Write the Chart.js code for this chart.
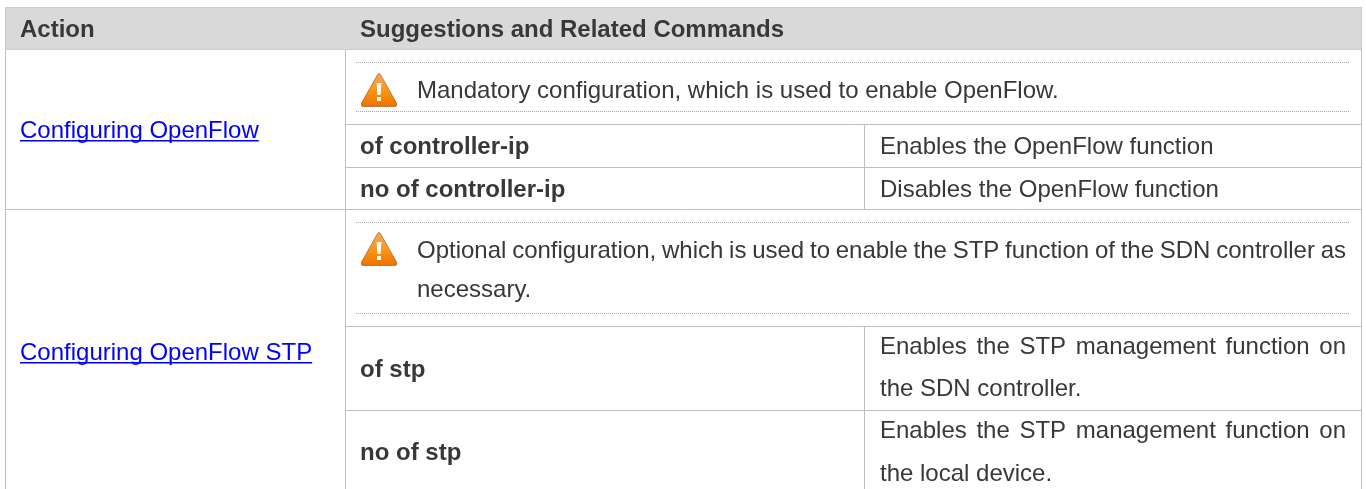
<!DOCTYPE html>
<html>
<head>
<meta charset="utf-8">
<title>OpenFlow configuration</title>
<script src="https://cdn.jsdelivr.net/npm/chart.js@4"></script>
<style>
    html, body { margin: 0; padding: 0; background: #ffffff; }
    canvas { display: block; }
</style>
</head>
<body>
<canvas id="chart" width="1366" height="489"></canvas>
<script>
// Cell texts
const headerLabels = ['Action', 'Suggestions and Related Commands'];
const actionLabels = ['Configuring OpenFlow', 'Configuring OpenFlow STP'];
const noteLabels = [
    ['Mandatory configuration, which is used to enable OpenFlow.'],
    ['Optional configuration, which is used to enable the STP function of the SDN controller as', 'necessary.']
];
const commandLabels = ['of controller-ip', 'no of controller-ip', 'of stp', 'no of stp'];
const descriptionLabels = [
    ['Enables the OpenFlow function'],
    ['Disables the OpenFlow function'],
    ['Enables the STP management function on', 'the SDN controller.'],
    ['Enables the STP management function on', 'the local device.']
];

// Table grid, in the units of the two scales
const tableLeft = 5.5, tableRight = 1361.5, tableTop = 7.5, headerBottom = 49.5, tableBottom = 489;
const actionRight = 345.5, commandRight = 864.5;
const rowRules = [124.5, 167.5, 209.5, 326.5, 410.5];
const noteRules = [62.5, 111.5, 222.5, 313.5];
const noteLeft = 356, noteRight = 1350;
const iconRows = [90, 249];

const TEXT = '#383838';
const RULE = '#bfbfbf';
const FONT = '"Liberation Sans", Arial, sans-serif';
const FONT_SIZE = 24;

// Warning triangle used as the point style of the icon dataset
function makeWarningIcon() {
    const c = document.createElement('canvas');
    c.width = 36;
    c.height = 34;
    const g = c.getContext('2d');
    const grad = g.createLinearGradient(0, 0, 0, 34);
    grad.addColorStop(0, '#f0a860');
    grad.addColorStop(0.5, '#f7981f');
    grad.addColorStop(0.75, '#f58405');
    grad.addColorStop(1, '#ec7000');
    g.beginPath();
    g.moveTo(18, 0.5);
    g.quadraticCurveTo(19, 0.5, 20, 2.5);
    g.lineTo(36, 31);
    g.quadraticCurveTo(36, 33.5, 34, 33.5);
    g.lineTo(2, 33.5);
    g.quadraticCurveTo(0, 33.5, 0, 31);
    g.lineTo(16, 2.5);
    g.quadraticCurveTo(17, 0.5, 18, 0.5);
    g.closePath();
    g.fillStyle = grad;
    g.fill();
    g.strokeStyle = 'rgba(150,80,20,0.75)';
    g.lineWidth = 0.8;
    g.stroke();
    g.fillStyle = '#fffaf0';
    g.beginPath();
    g.moveTo(15.6, 10);
    g.lineTo(20.4, 10);
    g.lineTo(19.6, 22);
    g.lineTo(16.4, 22);
    g.closePath();
    g.fill();
    g.fillRect(16, 24, 4, 4);
    return c;
}

function ruleDataset(points, color, dash) {
    return {
        type: 'scatter',
        showLine: true,
        data: points,
        borderColor: color,
        borderWidth: 1,
        borderDash: dash || [],
        pointRadius: 0,
        fill: false
    };
}

const datasets = [];

// Header band
datasets.push({
    type: 'line',
    data: [{ x: tableLeft, y: tableTop }, { x: tableRight, y: tableTop }],
    backgroundColor: '#d9d9d9',
    borderWidth: 0,
    pointRadius: 0,
    fill: { value: headerBottom }
});

// Outer frame and column rules
datasets.push(ruleDataset([{ x: tableLeft, y: tableBottom }, { x: tableLeft, y: tableTop }, { x: tableRight, y: tableTop }, { x: tableRight, y: tableBottom }], RULE));
datasets.push(ruleDataset([{ x: tableLeft, y: headerBottom }, { x: tableRight, y: headerBottom }], RULE));
datasets.push(ruleDataset([{ x: actionRight, y: tableTop }, { x: actionRight, y: tableBottom }], RULE));
datasets.push(ruleDataset([{ x: commandRight, y: rowRules[0] }, { x: commandRight, y: rowRules[2] }], RULE));
datasets.push(ruleDataset([{ x: commandRight, y: rowRules[3] }, { x: commandRight, y: tableBottom }], RULE));

// Row rules: the third spans the table, the others start at the second column
rowRules.forEach((y, i) => {
    const x0 = i === 2 ? tableLeft : actionRight;
    datasets.push(ruleDataset([{ x: x0, y }, { x: tableRight, y }], RULE));
});

// Dotted rules around the notes
noteRules.forEach(y => {
    datasets.push(ruleDataset([{ x: noteLeft, y }, { x: noteRight, y }], '#a6a6a6', [1, 1]));
});

// Warning icons
datasets.push({
    type: 'scatter',
    data: iconRows.map(y => ({ x: 379, y })),
    pointStyle: makeWarningIcon(),
    pointRadius: 18,
    showLine: false
});

// Draws the cell texts on the same scales as the grid
const cellTextPlugin = {
    id: 'cellText',
    afterDatasetsDraw(chart) {
        const { ctx, scales: { x, y } } = chart;

        const put = (text, px, py, opts = {}) => {
            ctx.save();
            ctx.font = `${opts.bold ? 'bold ' : ''}${FONT_SIZE}px ${FONT}`;
            ctx.fillStyle = opts.color || TEXT;
            ctx.textAlign = 'left';
            ctx.textBaseline = 'alphabetic';
            const left = x.getPixelForValue(px);
            const base = y.getPixelForValue(py);
            if (opts.justifyTo) {
                const gaps = text.split(' ').length - 1;
                const spare = opts.justifyTo - px - ctx.measureText(text).width;
                ctx.wordSpacing = (spare / gaps) + 'px';
            }
            ctx.fillText(text, left, base);
            if (opts.underline) {
                const w = ctx.measureText(text).width;
                ctx.fillRect(left, base + 2, w, 1.5);
            }
            ctx.restore();
        };

        put(headerLabels[0], 20, 37, { bold: true });
        put(headerLabels[1], 360, 37, { bold: true });

        put(actionLabels[0], 20, 138, { color: '#0000ff', underline: true });
        put(actionLabels[1], 20, 360, { color: '#0000ff', underline: true });

        put(noteLabels[0][0], 417, 98);
        put(noteLabels[1][0], 417, 258, { justifyTo: 1346 });
        put(noteLabels[1][1], 417, 297);

        put(commandLabels[0], 360, 154, { bold: true });
        put(commandLabels[1], 360, 197, { bold: true });
        put(commandLabels[2], 360, 377, { bold: true });
        put(commandLabels[3], 360, 460, { bold: true });

        put(descriptionLabels[0][0], 880, 154);
        put(descriptionLabels[1][0], 880, 197);
        put(descriptionLabels[2][0], 880, 354, { justifyTo: 1346 });
        put(descriptionLabels[2][1], 880, 396);
        put(descriptionLabels[3][0], 880, 438, { justifyTo: 1346 });
        put(descriptionLabels[3][1], 880, 481);
    }
};

new Chart(document.getElementById('chart'), {
    type: 'scatter',
    data: { datasets },
    plugins: [cellTextPlugin],
    options: {
        responsive: false,
        animation: false,
        events: [],
        layout: { padding: 0, autoPadding: false },
        plugins: {
            legend: { display: false },
            tooltip: { enabled: false }
        },
        scales: {
            x: { type: 'linear', min: 0, max: 1366, display: false },
            y: { type: 'linear', min: 0, max: 489, reverse: true, display: false }
        }
    }
});
</script>
</body>
</html>
